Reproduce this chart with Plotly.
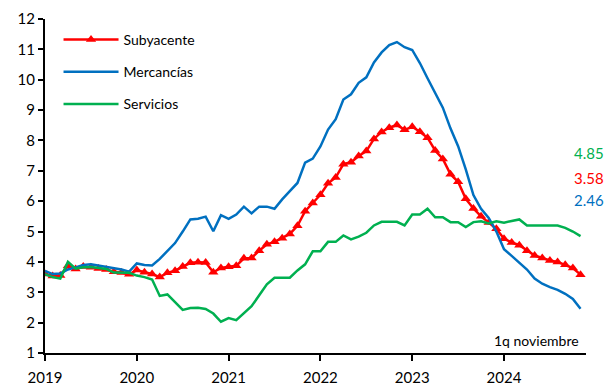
import plotly.graph_objects as go

# Monthly series, Jan 2019 .. 1st fortnight Nov 2024 (annual % change)
start_year = 2019
subyacente = [
    3.60, 3.54, 3.55, 3.87, 3.77, 3.85, 3.82, 3.78, 3.75, 3.68, 3.65, 3.59,
    3.73, 3.66, 3.60, 3.50, 3.64, 3.71, 3.85, 3.97, 3.99, 3.98, 3.66, 3.80,
    3.84, 3.87, 4.12, 4.13, 4.37, 4.58, 4.66, 4.78, 4.92, 5.19, 5.67, 5.94,
    6.21, 6.59, 6.78, 7.22, 7.28, 7.49, 7.65, 8.05, 8.28, 8.42, 8.51, 8.35,
    8.45, 8.29, 8.09, 7.67, 7.39, 6.89, 6.64, 6.08, 5.76, 5.50, 5.30, 5.09,
    4.76, 4.64, 4.55, 4.37, 4.21, 4.13, 4.05, 4.00, 3.91, 3.80, 3.58,
]
mercancias = [
    3.70, 3.60, 3.62, 3.75, 3.82, 3.90, 3.92, 3.88, 3.85, 3.80, 3.75, 3.68,
    3.95, 3.90, 3.88, 4.10, 4.35, 4.62, 5.00, 5.40, 5.42, 5.49, 5.01, 5.54,
    5.42, 5.56, 5.82, 5.60, 5.82, 5.82, 5.75, 6.06, 6.33, 6.60, 7.27, 7.40,
    7.80, 8.36, 8.70, 9.35, 9.52, 9.90, 10.08, 10.57, 10.90, 11.14, 11.24, 11.07,
    10.98, 10.55, 10.05, 9.55, 9.08, 8.40, 7.81, 7.05, 6.20, 5.75, 5.45, 5.00,
    4.42, 4.20, 3.98, 3.75, 3.45, 3.28, 3.17, 3.08, 2.95, 2.78, 2.46,
]
servicios = [
    3.60, 3.50, 3.45, 4.00, 3.78, 3.82, 3.83, 3.80, 3.77, 3.65, 3.64, 3.64,
    3.55, 3.50, 3.42, 2.88, 2.93, 2.68, 2.42, 2.48, 2.49, 2.45, 2.30, 2.03,
    2.15, 2.08, 2.30, 2.54, 2.90, 3.26, 3.48, 3.48, 3.48, 3.72, 3.92, 4.35,
    4.35, 4.66, 4.66, 4.87, 4.74, 4.83, 4.96, 5.20, 5.32, 5.32, 5.32, 5.20,
    5.56, 5.56, 5.75, 5.47, 5.47, 5.31, 5.31, 5.15, 5.31, 5.34, 5.27, 5.34,
    5.29, 5.35, 5.40, 5.20, 5.20, 5.20, 5.20, 5.20, 5.12, 5.00, 4.85,
]
year_ticks = [2019, 2020, 2021, 2022, 2023, 2024]
note_text = "1q noviembre"

x = [start_year + i / 12 for i in range(len(subyacente))]

RED = "#FF0000"
BLUE = "#0070C0"
GREEN = "#00B050"
FONT = "Lato"

fig = go.Figure()
fig.add_trace(go.Scatter(
    x=x, y=subyacente, name="Subyacente", mode="lines+markers",
    line=dict(color=RED, width=2.5),
    marker=dict(symbol="triangle-up", size=9, color=RED),
    legendgroup="a",
))
fig.add_trace(go.Scatter(
    x=x, y=mercancias, name="Mercancías", mode="lines",
    line=dict(color=BLUE, width=2.5), legendgroup="b",
))
fig.add_trace(go.Scatter(
    x=x, y=servicios, name="Servicios", mode="lines",
    line=dict(color=GREEN, width=2.5), legendgroup="c",
))

# Latest values printed at the right edge
last_labels = [
    (servicios[-1], GREEN, 7.6),
    (subyacente[-1], RED, 6.78),
    (mercancias[-1], BLUE, 6.05),
]
for val, col, ypos in last_labels:
    fig.add_annotation(
        x=1.037, xref="paper", y=ypos, yref="y",
        text=f"{val:.2f}", showarrow=False, xanchor="right", yanchor="middle",
        font=dict(family=FONT, size=15, color=col),
    )

fig.add_annotation(
    x=0.99, xref="paper", y=1.42, yref="y", text=note_text,
    showarrow=False, xanchor="right", yanchor="middle",
    font=dict(family=FONT, size=14, color="#000000"),
)

fig.update_layout(
    width=608, height=386,
    margin=dict(l=45, r=22, t=19, b=33),
    paper_bgcolor="white", plot_bgcolor="white",
    font=dict(family=FONT, size=14, color="#000000"),
    showlegend=True,
    legend=dict(
        x=0.025, y=0.985, xanchor="left", yanchor="top",
        bgcolor="rgba(0,0,0,0)", itemwidth=55, tracegroupgap=11,
        font=dict(family=FONT, size=14),
    ),
    xaxis=dict(
        range=[2019, 2024.893], tickvals=year_ticks,
        ticktext=[str(t) for t in year_ticks],
        showgrid=False, zeroline=False, automargin=False,
        showline=True, linecolor="black", linewidth=2,
        ticks="outside", ticklen=6, tickwidth=2, tickcolor="black",
        ticklabelstandoff=4,
        tickfont=dict(family=FONT, size=15),
    ),
    yaxis=dict(
        range=[1, 12], dtick=1, showgrid=False, zeroline=False, automargin=False,
        showline=True, linecolor="black", linewidth=2,
        ticks="outside", ticklen=5, tickwidth=2, tickcolor="black",
        tickfont=dict(family=FONT, size=15),
    ),
)

fig.write_html("out.html")
